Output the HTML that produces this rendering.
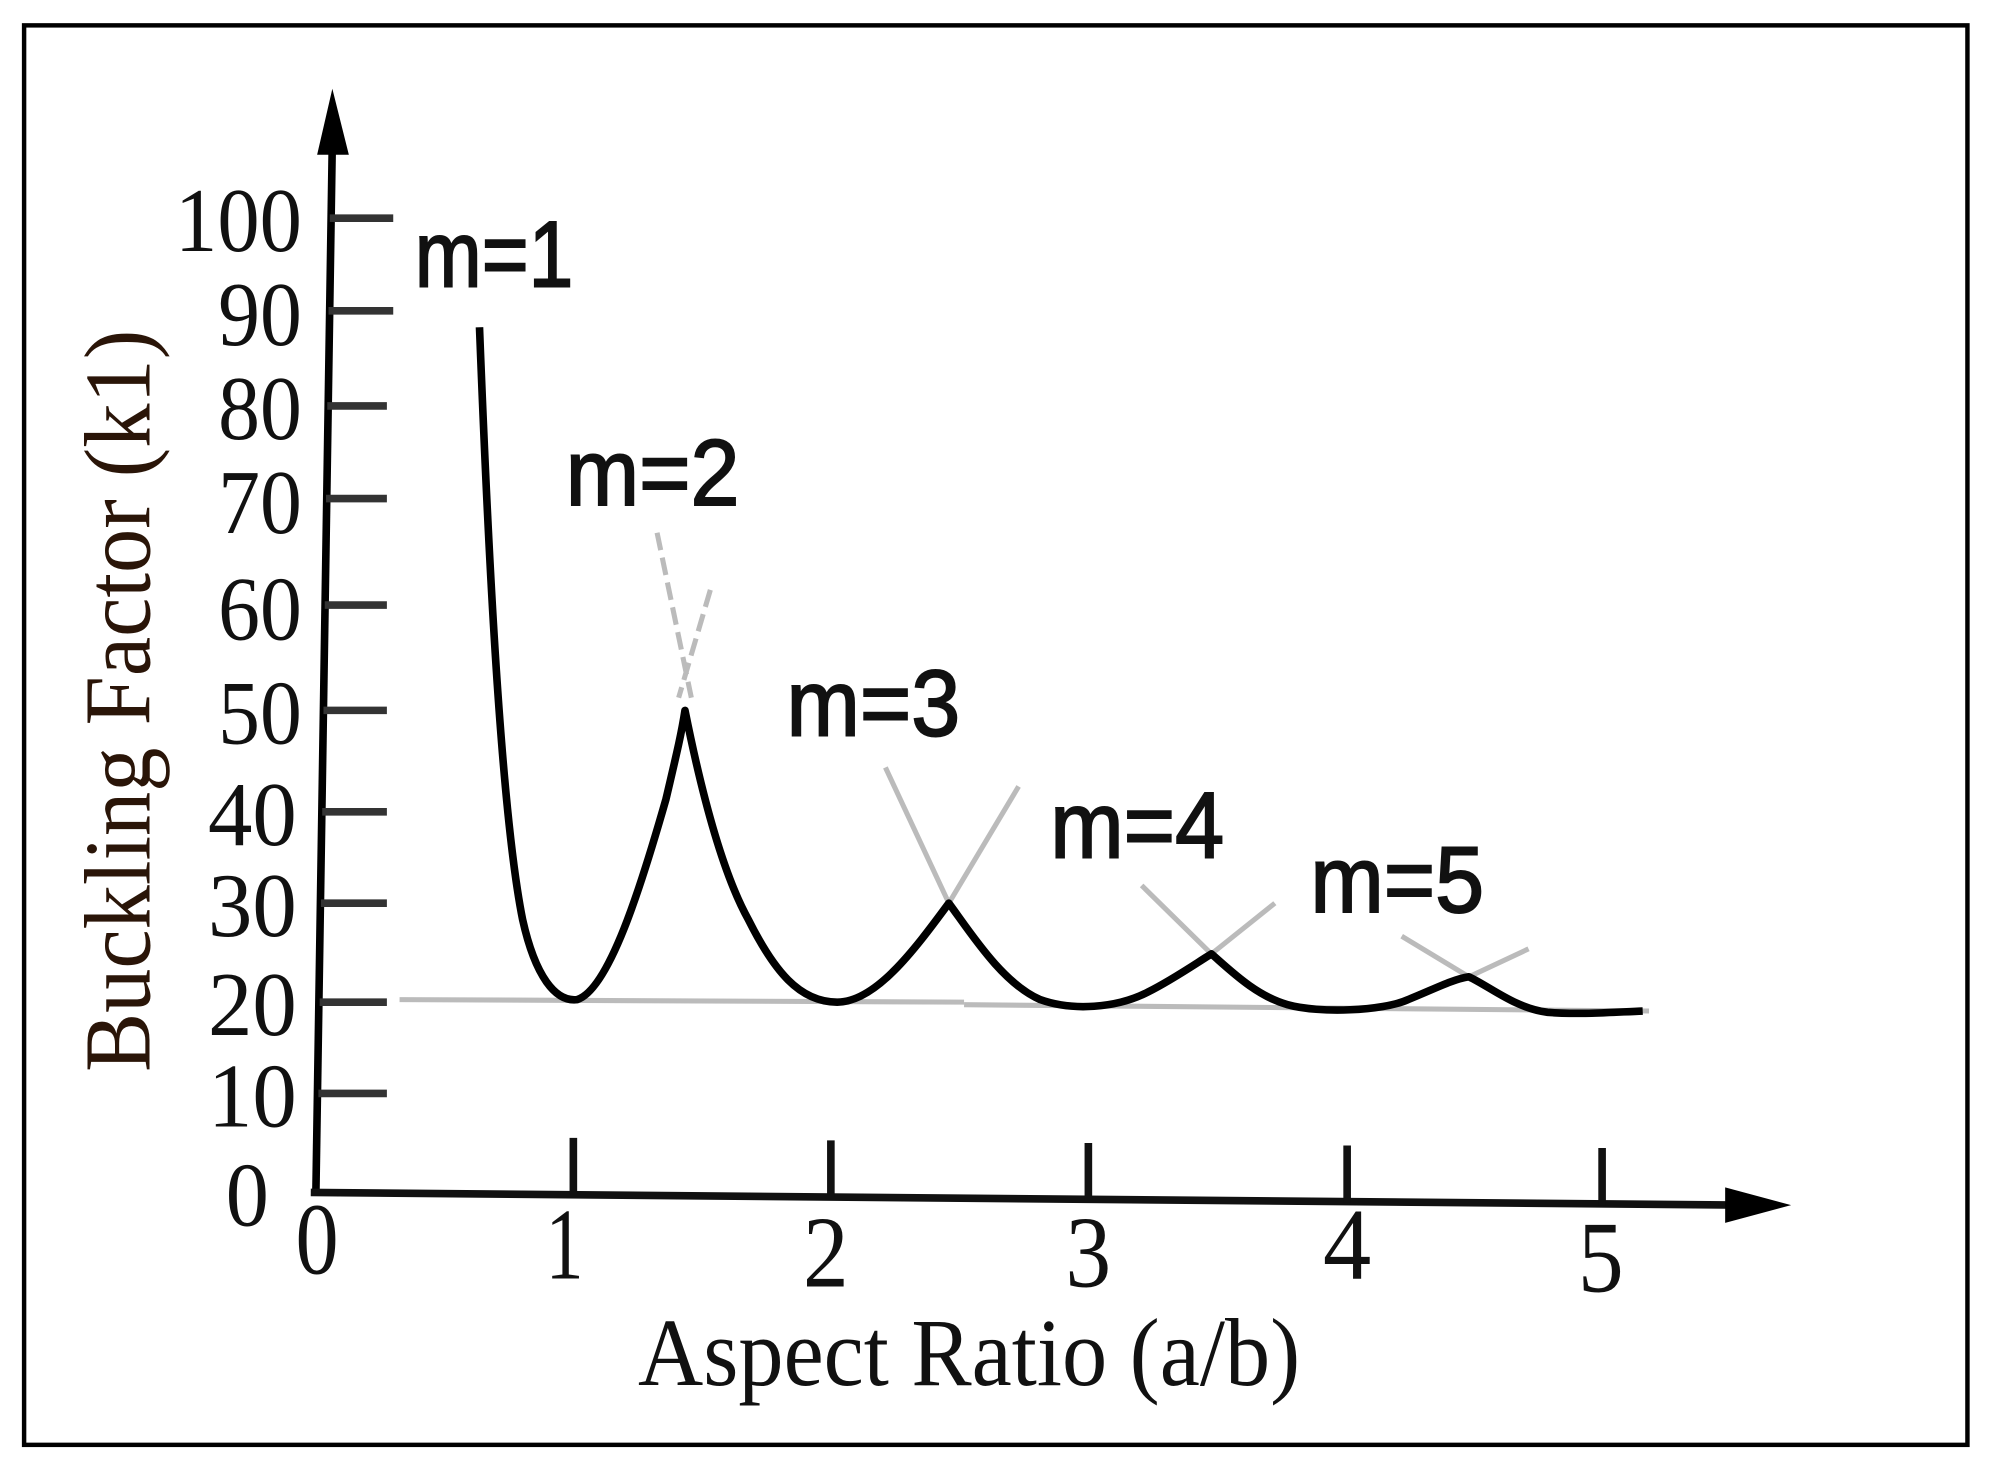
<!DOCTYPE html>
<html><head><meta charset="utf-8"><style>
html,body{margin:0;padding:0;background:#fff;}
svg{display:block;}
</style></head><body>
<svg width="1989" height="1472" viewBox="0 0 1568 1160.4" preserveAspectRatio="none" xmlns="http://www.w3.org/2000/svg">
<rect x="0" y="0" width="1568" height="1161" fill="#fff"/>
<rect x="19" y="20" width="1532" height="1119" fill="none" stroke="#000" stroke-width="3.5"/>
<line x1="249" y1="942" x2="262" y2="110" stroke="#000" stroke-width="6"/>
<polygon points="262,70 250,122 275,122" fill="#000"/>
<line x1="245" y1="940" x2="1370" y2="950" stroke="#111" stroke-width="6"/>
<polygon points="1412,950 1360,936 1360,964" fill="#000"/>
<g stroke="#333" stroke-width="6">
<line x1="260" y1="172" x2="310" y2="172"/>
<line x1="259" y1="245" x2="310" y2="245"/>
<line x1="258" y1="320" x2="305" y2="320"/>
<line x1="257" y1="393" x2="305" y2="393"/>
<line x1="256" y1="477" x2="305" y2="477"/>
<line x1="255" y1="560" x2="305" y2="560"/>
<line x1="254" y1="640" x2="305" y2="640"/>
<line x1="253" y1="712" x2="305" y2="712"/>
<line x1="252" y1="790" x2="305" y2="790"/>
<line x1="251" y1="862" x2="305" y2="862"/>
</g>
<g stroke="#111" stroke-width="6">
<line x1="452" y1="897" x2="452" y2="942"/>
<line x1="655" y1="899" x2="655" y2="944"/>
<line x1="858" y1="901" x2="858" y2="946"/>
<line x1="1062" y1="903" x2="1062" y2="948"/>
<line x1="1263" y1="905" x2="1263" y2="950"/>
</g>
<g font-family="Liberation Serif, serif" font-size="72" fill="#111" text-anchor="end">
<text x="238" y="198" textLength="100" lengthAdjust="spacingAndGlyphs">100</text>
<text x="238" y="272" textLength="66" lengthAdjust="spacingAndGlyphs">90</text>
<text x="238" y="346" textLength="66" lengthAdjust="spacingAndGlyphs">80</text>
<text x="238" y="420" textLength="66" lengthAdjust="spacingAndGlyphs">70</text>
<text x="238" y="504" textLength="66" lengthAdjust="spacingAndGlyphs">60</text>
<text x="238" y="586" textLength="66" lengthAdjust="spacingAndGlyphs">50</text>
<text x="234" y="666" textLength="70" lengthAdjust="spacingAndGlyphs">40</text>
<text x="234" y="738" textLength="70" lengthAdjust="spacingAndGlyphs">30</text>
<text x="234" y="816" textLength="70" lengthAdjust="spacingAndGlyphs">20</text>
<text x="234" y="888" textLength="70" lengthAdjust="spacingAndGlyphs">10</text>
<text x="212" y="966" textLength="34" lengthAdjust="spacingAndGlyphs">0</text>
</g>
<g font-family="Liberation Serif, serif" font-size="80" fill="#111">
<text x="233" y="1004" textLength="34" lengthAdjust="spacingAndGlyphs">0</text>
<text x="430" y="1008" textLength="30" lengthAdjust="spacingAndGlyphs">1</text>
<text x="633" y="1014" textLength="36" lengthAdjust="spacingAndGlyphs">2</text>
<text x="840" y="1014" textLength="36" lengthAdjust="spacingAndGlyphs">3</text>
<text x="1043" y="1008" textLength="38" lengthAdjust="spacingAndGlyphs">4</text>
<text x="1244" y="1018" textLength="36" lengthAdjust="spacingAndGlyphs">5</text>
</g>
<text x="503" y="1092" font-family="Liberation Serif, serif" font-size="76" fill="#111" textLength="522" lengthAdjust="spacingAndGlyphs">Aspect Ratio (a/b)</text>
<text transform="translate(118,845) rotate(-90)" font-family="Liberation Serif, serif" font-size="74" fill="#2a1508" textLength="585" lengthAdjust="spacingAndGlyphs">Buckling Factor (k1)</text>
<g stroke="#bbb" stroke-width="4" fill="none">
<line x1="315" y1="788" x2="760" y2="790"/>
<line x1="760" y1="792" x2="1300" y2="797"/>
<line x1="518" y1="420" x2="545" y2="550" stroke-dasharray="14,6"/>
<line x1="560" y1="465" x2="535" y2="550" stroke-dasharray="14,6"/>
<line x1="698" y1="605" x2="748" y2="712"/>
<line x1="803" y1="620" x2="748" y2="712"/>
<line x1="900" y1="698" x2="955" y2="752"/>
<line x1="1005" y1="712" x2="955" y2="752"/>
<line x1="1105" y1="738" x2="1158" y2="770"/>
<line x1="1205" y1="748" x2="1158" y2="770"/>
</g>
<path d="M378,258 C385,440 395,640 412,725 C422,770 438,790 455,788 C480,780 505,700 525,630 C532,600 537,580 540,560 C548,600 565,680 590,725 C610,765 630,790 660,790 C690,790 720,750 748,712 C765,735 790,775 820,788 C845,797 880,795 905,782 C925,772 945,758 955,752 C970,765 990,785 1015,792 C1040,799 1090,797 1110,788 C1130,780 1145,772 1158,770 C1175,778 1195,795 1220,798 C1245,800 1270,798 1295,797" fill="none" stroke="#000" stroke-width="6" stroke-linejoin="round"/>
<g font-family="Liberation Sans, sans-serif" font-size="74" fill="#111" stroke="#111" stroke-width="1.5">
<text x="327" y="226" textLength="125" lengthAdjust="spacingAndGlyphs">m=1</text>
<text x="446" y="398" textLength="137" lengthAdjust="spacingAndGlyphs">m=2</text>
<text x="620" y="580" textLength="137" lengthAdjust="spacingAndGlyphs">m=3</text>
<text x="828" y="676" textLength="137" lengthAdjust="spacingAndGlyphs">m=4</text>
<text x="1033" y="719" textLength="137" lengthAdjust="spacingAndGlyphs">m=5</text>
</g>
</svg>
</body></html>
